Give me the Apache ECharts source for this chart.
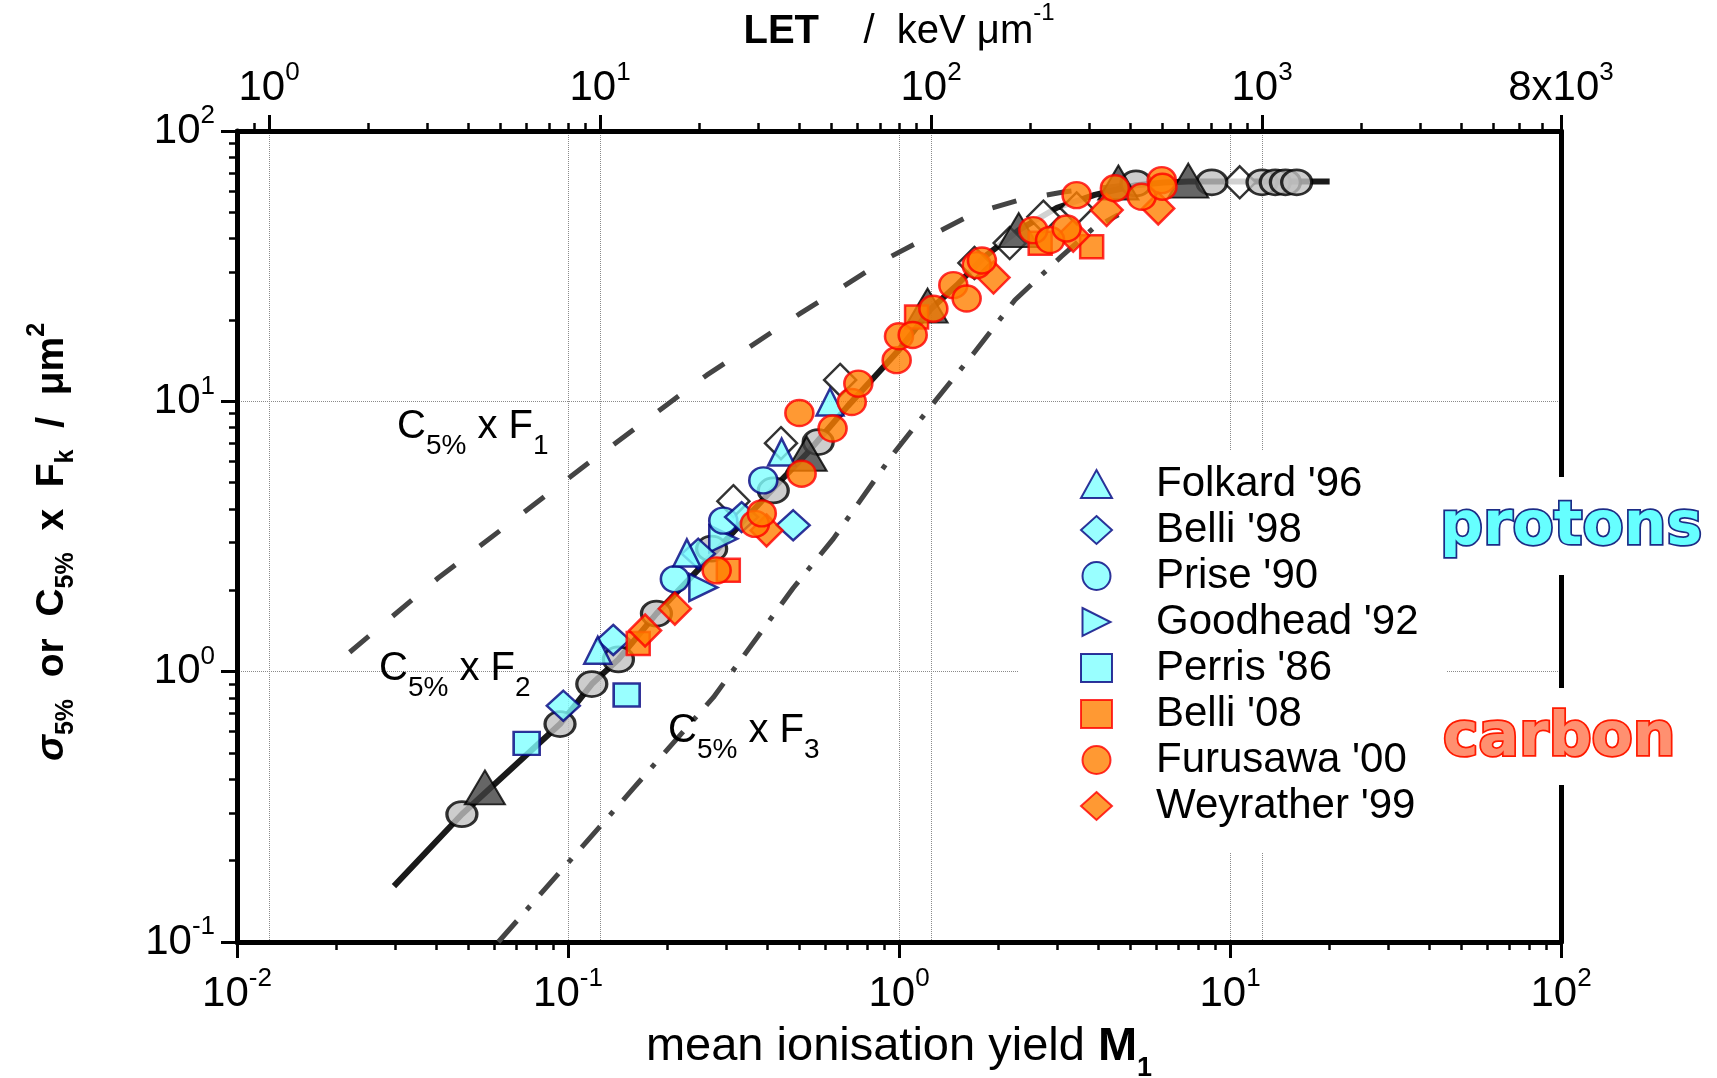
<!DOCTYPE html>
<html>
<head>
<meta charset="utf-8">
<script src="https://cdn.jsdelivr.net/npm/echarts@6/dist/echarts.min.js"></script>
<style>
  html, body { margin: 0; padding: 0; background: #fff; }
  #chart { width: 1717px; height: 1078px; }
</style>
</head>
<body>
<div id="chart"></div>
<script>
// ---- curves (mean ionisation yield M1 -> cross section, um^2) ----
const f2M = [0.0298, 0.0478, 0.0946, 0.118, 0.142, 0.185, 0.281, 0.421, 0.526, 0.70, 0.863, 1.0, 1.25, 1.5, 1.8, 2.3, 3.0, 3.9, 5.2, 6.3, 7.5, 10, 20];
const f2V = [0.161, 0.297, 0.64, 0.90, 1.11, 1.64, 2.81, 4.82, 6.4, 9.6, 12.7, 15.5, 22, 27, 34, 43, 52, 58, 63, 64.5, 65, 65, 65];

const f1M = [0.0219, 0.0405, 0.1139, 0.137, 0.1986, 0.2624, 0.502, 0.939, 1.677, 2.30, 3.17, 4.5, 5.5];
const f1V = [1.18, 2.22, 5.85, 6.9, 9.7, 12.5, 21.1, 34.2, 49.5, 55.5, 59.6, 62.5, 64];

const f3M = [0.0616, 0.1086, 0.1575, 0.2748, 0.479, 0.633, 0.961, 1.30, 1.677, 2.24, 2.63, 3.09, 3.86, 4.6];
const f3V = [0.1, 0.220, 0.37, 0.803, 2.04, 3.1, 6.40, 10.2, 15.0, 23.7, 28.5, 34.3, 43.6, 49];

// ---- calculated points along the F2 curve ----
const calcCircles = [[0.0478, 0.297], [0.0946, 0.64], [0.118, 0.90], [0.142, 1.11], [0.185, 1.64], [0.2716, 2.85], [0.417, 4.68], [0.570, 7.07], [5.2, 64], [8.81, 64.6], [12.5, 64.6], [13.7, 64.6], [14.7, 64.6], [15.9, 64.6]];
const calcTriangles = [[0.0561, 0.373], [0.526, 6.4], [1.22, 22.6], [2.30, 43.0], [4.6, 64.5], [7.48, 65.5]];
const calcDiamonds = [[0.316, 4.27], [0.44, 7.0], [0.664, 12.0], [1.69, 32.5], [2.16, 38.5], [2.73, 48.2], [3.44, 51.7], [10.7, 64.6]];

// ---- protons ----
const folkard96 = [[0.123, 1.20], [0.2286, 2.75], [0.442, 6.49], [0.619, 9.94]];
const belli98 = [[0.0968, 0.748], [0.137, 1.31], [0.2475, 2.73], [0.3346, 3.73], [0.479, 3.48]];
const prise90 = [[0.2103, 2.20], [0.2945, 3.62], [0.389, 5.10]];
const goodhead92 = [[0.2564, 2.05], [0.2945, 3.10]];
const perris86 = [[0.075, 0.543], [0.1504, 0.82]];

// ---- carbon ----
const belli08 = [[0.163, 1.27], [0.305, 2.37], [1.13, 20.5], [2.67, 38.4], [3.82, 37.3]];
const furusawa00 = [[0.2813, 2.37], [0.367, 3.52], [0.385, 3.85], [0.508, 5.40], [0.50, 9.05], [0.630, 7.93], [0.72, 9.94], [0.7535, 11.63], [0.984, 14.2], [1.0, 17.4], [1.10, 17.6], [1.27, 22.0], [1.459, 26.9], [1.601, 24.0], [1.717, 31.9], [1.78, 33.2], [2.545, 43.0], [2.86, 39.5], [3.21, 43.6], [3.44, 57.9], [4.49, 61.4], [5.41, 57.1], [6.22, 65.8], [6.25, 62.2]];
const weyrather99 = [[0.171, 1.42], [0.2103, 1.71], [0.398, 3.33], [1.93, 28.7], [3.36, 41.0], [4.24, 51.0], [6.07, 51.7]];

// ---- axes ----
const mRange = [0.01, 100];
const letRange = [0.8, 8000];
const sRange = [0.1, 100];
const bottomMajor = [0.01, 0.1, 1, 10, 100];
const topMajor = [1, 10, 100, 1000, 8000];
const leftMajor = [0.1, 1, 10, 100];

function minorTicks(lo, hi) {
  const out = [];
  for (let k = -3; k <= 4; k++) {
    for (let m = 2; m <= 9; m++) {
      const v = m * Math.pow(10, k);
      if (v > lo * 1.0001 && v < hi * 0.9999) out.push(v);
    }
  }
  return out;
}

const FONT = '"Liberation Sans", Arial, Helvetica, sans-serif';
const pairs = (xs, ys) => xs.map((x, i) => [x, ys[i]]);
const expOf = v => Math.round(Math.log10(v));

const tickRich = {
  b: { fontSize: 42, fontFamily: FONT, color: '#000', padding: [7, 0, 7, 0], verticalAlign: 'top' },
  s: { fontSize: 26, fontFamily: FONT, color: '#000', verticalAlign: 'top' }
};
const powLabel = v => '{b|10}{s|' + expOf(v) + '}';

const gridLine = { show: true, lineStyle: { type: 'dotted', color: '#8a8a8a', width: 1 } };
const axisBlack = { show: true, onZero: false, lineStyle: { color: '#000', width: 5 } };

const cyanStyle = { color: '#80ffff', borderColor: '#000080', borderWidth: 2.5 };
const orangeStyle = { color: '#ff8000', borderColor: '#ff0000', borderWidth: 2.5 };
const rightTri = 'path://M0,0 L1,0.5 L0,1 Z';

function scatter(name, data, symbol, size, style, z) {
  return {
    type: 'scatter', name, data, symbol, symbolSize: size,
    itemStyle: style, z, emphasis: { disabled: true }, silent: true
  };
}
function curve(name, data, width, type, color) {
  return {
    type: 'line', name, data, showSymbol: false, symbol: 'none',
    smooth: false, z: 2, silent: true,
    lineStyle: { color, width, type, cap: 'butt', join: 'round' }, emphasis: { disabled: true }
  };
}

const legendNames = ["Folkard '96", "Belli '98", "Prise '90", "Goodhead '92", "Perris '86", "Belli '08", "Furusawa '00", "Weyrather '99"];

const option = {
  animation: false,
  backgroundColor: '#fff',
  grid: { left: 237, right: 156, top: 131, bottom: 136, containLabel: false, outerBoundsMode: 'none' },
  legend: {
    data: legendNames,
    orient: 'vertical',
    left: 1019, top: 450,
    padding: [13, 28, 26, 61],
    backgroundColor: '#fff',
    itemWidth: 31, itemHeight: 28, itemGap: 4,
    selectedMode: false,
    formatter: name => '{g| }' + name,
    textStyle: {
      fontFamily: FONT, fontSize: 42, color: '#000', lineHeight: 40,
      rich: { g: { width: 39, fontSize: 42, lineHeight: 40 } }
    }
  },
  xAxis: [
    { // mean ionisation yield, major ticks + labels
      type: 'log', position: 'bottom', min: mRange[0], max: mRange[1],
      axisLine: axisBlack,
      axisTick: { show: true, length: 16, lineStyle: { color: '#000', width: 3 }, customValues: bottomMajor },
      axisLabel: { show: true, margin: 24, customValues: bottomMajor, formatter: powLabel, rich: tickRich },
      splitLine: gridLine,
      name: '{n|mean ionisation yield }{b|M}{s|1}',
      nameLocation: 'middle', nameGap: 82,
      nameTextStyle: {
        rich: {
          n: { fontSize: 47, fontFamily: FONT, color: '#000', verticalAlign: 'top' },
          b: { fontSize: 47, fontFamily: FONT, fontWeight: 'bold', color: '#000', verticalAlign: 'top' },
          s: { fontSize: 27, fontFamily: FONT, fontWeight: 'bold', color: '#000', padding: [31, 0, 0, 0], verticalAlign: 'top' }
        }
      }
    },
    { // minor ticks
      type: 'log', position: 'bottom', min: mRange[0], max: mRange[1],
      axisLine: { show: false },
      axisTick: { show: true, length: 8, lineStyle: { color: '#000', width: 2.5 }, customValues: minorTicks(mRange[0], mRange[1]) },
      axisLabel: { show: false }, splitLine: { show: false }
    },
    { // LET, major ticks + labels
      type: 'log', position: 'top', min: letRange[0], max: letRange[1],
      axisLine: axisBlack,
      axisTick: { show: true, length: 16, lineStyle: { color: '#000', width: 3 }, customValues: topMajor },
      axisLabel: {
        show: true, margin: 15, customValues: topMajor, rich: tickRich,
        formatter: v => Math.abs(v - 8000) < 1e-6 ? '{b|8x10}{s|3}' : powLabel(v)
      },
      splitLine: gridLine,
      name: '{b|LET}{n|    /  keV μm}{s|-1}',
      nameLocation: 'middle', nameGap: 79,
      nameTextStyle: {
        rich: {
          b: { fontSize: 40, fontFamily: FONT, fontWeight: 'bold', color: '#000', padding: [11, 0, 0, 0], verticalAlign: 'top' },
          n: { fontSize: 40, fontFamily: FONT, color: '#000', padding: [11, 0, 0, 0], verticalAlign: 'top' },
          s: { fontSize: 24, fontFamily: FONT, color: '#000', verticalAlign: 'top' }
        }
      }
    },
    { // LET minor ticks
      type: 'log', position: 'top', min: letRange[0], max: letRange[1],
      axisLine: { show: false },
      axisTick: { show: true, length: 8, lineStyle: { color: '#000', width: 2.5 }, customValues: minorTicks(letRange[0], letRange[1]).concat([0.9]) },
      axisLabel: { show: false }, splitLine: { show: false }
    }
  ],
  yAxis: [
    {
      type: 'log', position: 'left', min: sRange[0], max: sRange[1],
      axisLine: axisBlack,
      axisTick: { show: true, length: 16, lineStyle: { color: '#000', width: 3 }, customValues: leftMajor },
      axisLabel: { show: true, margin: 22, customValues: leftMajor, formatter: powLabel, rich: tickRich },
      splitLine: gridLine,
      name: '{g|σ}{s|5%}{m|  or  C}{s|5%}{m|  x  F}{s|k}{m|  /  μm}{u|2}{m| }',
      nameLocation: 'middle', nameGap: 158, nameRotate: 90,
      nameTextStyle: {
        rich: {
          m: { fontSize: 39, fontFamily: FONT, fontWeight: 'bold', color: '#000', padding: [8, 0, 0, 0], verticalAlign: 'top' },
          g: { fontSize: 39, fontFamily: FONT, fontWeight: 'bold', fontStyle: 'italic', color: '#000', padding: [8, 0, 0, 0], verticalAlign: 'top' },
          s: { fontSize: 25, fontFamily: FONT, fontWeight: 'bold', color: '#000', padding: [29, 0, 0, 0], verticalAlign: 'top' },
          u: { fontSize: 25, fontFamily: FONT, fontWeight: 'bold', color: '#000', verticalAlign: 'top' }
        }
      }
    },
    {
      type: 'log', position: 'left', min: sRange[0], max: sRange[1],
      axisLine: { show: false },
      axisTick: { show: true, length: 8, lineStyle: { color: '#000', width: 2.5 }, customValues: minorTicks(sRange[0], sRange[1]) },
      axisLabel: { show: false }, splitLine: { show: false }
    },
    {
      type: 'log', position: 'right', min: sRange[0], max: sRange[1],
      axisLine: axisBlack, axisTick: { show: false }, axisLabel: { show: false }, splitLine: { show: false }
    }
  ],
  series: [
    curve('C5% x F1', pairs(f1M, f1V), 5, [25, 31], '#444444'),
    curve('C5% x F3', pairs(f3M, f3V), 5, [28, 15, 5, 15], '#444444'),
    curve('C5% x F2', pairs(f2M, f2V), 6, 'solid', '#1a1a1a'),
    scatter('calc. diamonds', calcDiamonds, 'diamond', [32, 32], { color: '#ffffff', borderColor: '#000', borderWidth: 2.5 }, 3),
    scatter('calc. circles', calcCircles, 'circle', [30, 25], { color: '#c0c0c0', borderColor: '#000', borderWidth: 3 }, 3),
    scatter('calc. triangles', calcTriangles, 'triangle', [40, 34], { color: '#404040', borderColor: '#000', borderWidth: 2 }, 3),
    scatter("Perris '86", perris86, 'rect', [26, 23], cyanStyle, 4),
    scatter("Goodhead '92", goodhead92, rightTri, [28, 27], cyanStyle, 4),
    scatter("Prise '90", prise90, 'circle', [28, 26], cyanStyle, 4),
    scatter("Belli '98", belli98, 'diamond', [33, 30], cyanStyle, 4),
    scatter("Folkard '96", folkard96, 'triangle', [27, 27], cyanStyle, 4),
    scatter("Belli '08", belli08, 'rect', [23, 23], orangeStyle, 5),
    scatter("Weyrather '99", weyrather99, 'diamond', [32, 32], orangeStyle, 5),
    scatter("Furusawa '00", furusawa00, 'circle', [28, 26], orangeStyle, 5)
  ],
  graphic: {
    elements: [
      {
        type: 'text', x: 397, y: 407, z: 20, silent: true,
        style: {
          text: '{m|C}{s|5%}{m| x F}{s|1}', align: 'left', verticalAlign: 'top',
          rich: {
            m: { fontSize: 40, fontFamily: FONT, fill: '#000', verticalAlign: 'top' },
            s: { fontSize: 28, fontFamily: FONT, fill: '#000', padding: [25, 0, 0, 0], verticalAlign: 'top' }
          }
        }
      },
      {
        type: 'text', x: 379, y: 649, z: 20, silent: true,
        style: {
          text: '{m|C}{s|5%}{m| x F}{s|2}', align: 'left', verticalAlign: 'top',
          rich: {
            m: { fontSize: 40, fontFamily: FONT, fill: '#000', verticalAlign: 'top' },
            s: { fontSize: 28, fontFamily: FONT, fill: '#000', padding: [25, 0, 0, 0], verticalAlign: 'top' }
          }
        }
      },
      {
        type: 'text', x: 668, y: 711, z: 20, silent: true,
        style: {
          text: '{m|C}{s|5%}{m| x F}{s|3}', align: 'left', verticalAlign: 'top',
          rich: {
            m: { fontSize: 40, fontFamily: FONT, fill: '#000', verticalAlign: 'top' },
            s: { fontSize: 28, fontFamily: FONT, fill: '#000', padding: [25, 0, 0, 0], verticalAlign: 'top' }
          }
        }
      },
      { type: 'rect', z: 30, silent: true, shape: { x: 1425, y: 477, width: 292, height: 98 }, style: { fill: '#fff' } },
      { type: 'rect', z: 30, silent: true, shape: { x: 1425, y: 688, width: 292, height: 97 }, style: { fill: '#fff' } },
      {
        type: 'text', x: 1440, y: 528, z: 31, silent: true,
        style: { text: 'protons', font: 'bold 60px "DejaVu Sans"', fill: '#66ffff', stroke: '#1c2c86', lineWidth: 3.5, align: 'left', verticalAlign: 'middle' }
      },
      {
        type: 'text', x: 1443, y: 739, z: 31, silent: true,
        style: { text: 'carbon', font: 'bold 60px "DejaVu Sans"', fill: '#ff9070', stroke: '#ff1a00', lineWidth: 3.5, align: 'left', verticalAlign: 'middle' }
      }
    ]
  }
};

const chart = echarts.init(document.getElementById('chart'), null, { renderer: 'canvas' });
chart.setOption(option);
</script>
</body>
</html>
